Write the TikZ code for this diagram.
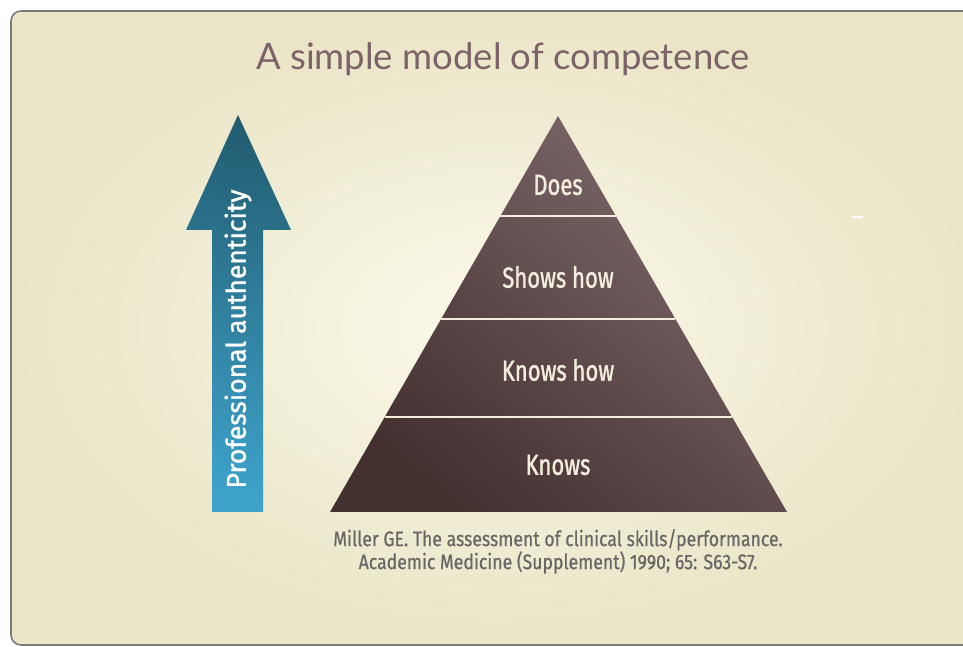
\documentclass[tikz,border=0pt]{standalone}
\usepackage{fontspec}
\setmainfont{Lato}
\newfontfamily\narrowfont[FakeStretch=0.76,FakeBold=1.2]{Fira Sans}
\newfontfamily\shaftfont[FakeStretch=0.98,FakeBold=1.2]{Fira Sans}
\newfontfamily\citefont[FakeStretch=0.84,FakeBold=0.6]{Fira Sans}
\usepackage{xcolor}
\usepackage{tikz}
\usetikzlibrary{shapes,positioning,calc}

\definecolor{bglight}{HTML}{FBF9EA}
\definecolor{bgdark}{HTML}{EAE5C6}
\definecolor{framegray}{HTML}{7A7A7A}
\definecolor{titlemauve}{HTML}{7B6369}
\definecolor{pyrtop}{HTML}{7E696D}
\definecolor{pyrbot}{HTML}{44302F}
\definecolor{arrowtop}{HTML}{235E72}
\definecolor{arrowbot}{HTML}{3EA2CB}
\definecolor{linecream}{HTML}{F3EEDC}
\definecolor{citegray}{HTML}{676767}

\begin{document}
\begin{tikzpicture}[
    x=1pt, y=1pt,
    frame/.style={draw=framegray, line width=1.6pt, rounded corners=10pt, inner color=bglight, outer color=bgdark},
    heading/.style={text=titlemauve, font=\fontsize{36.5}{40}\selectfont, inner sep=0pt, anchor=base},
    level/.style={text=linecream, font=\narrowfont\fontsize{29}{32}\selectfont, inner sep=0pt},
    divider/.style={draw=linecream, line width=2pt},
    upshaft/.style={top color=arrowtop, bottom color=arrowbot, shading angle=-8},
    shaftlabel/.style={text=white, font=\shaftfont\fontsize{27}{30}\selectfont, inner sep=0pt, rotate=90},
    cite/.style={text=citegray, font=\citefont\fontsize{21}{23}\selectfont, inner sep=0pt, align=center}
]
    \useasboundingbox (0,0) rectangle (963,647);

    % Background panel
    \begin{scope}
        \clip (0,0) rectangle (963,647);
        \shadedraw[frame] (11,2) rectangle (985,636);
    \end{scope}
    \draw[white, line width=1.5pt] (852,430) -- (863,430);

    % Title
    \node[heading] (title) at (503,577) {A simple model of competence};

    % Arrow
    \coordinate (tip) at (238,532);
    \shade[upshaft] (tip) -- (291,417) -- (263,417) -- (263,135)
        -- (212,135) -- (212,417) -- (186,417) -- cycle;
    \node[shaftlabel] (authentic) at (238,308) {Professional authenticity};

    % Pyramid
    \coordinate (apex) at (558,531);
    \coordinate (left) at (330,135);
    \coordinate (right) at (787,135);
    \shade[top color=pyrtop, bottom color=pyrbot, shading angle=-40] (apex) -- (left) -- (right) -- cycle;
    \foreach \t in {0.2525,0.5126,0.760}
        \draw[divider] ($(apex)!\t!(left)$) -- ($(apex)!\t!(right)$);

    % Levels
    \node[level] (does) at (558,462) {Does};
    \node[level] (shows) at (558,370) {Shows how};
    \node[level] (knowshow) at (558,277) {Knows how};
    \node[level] (knows) at (558,182) {Knows};

    % Reference
    \coordinate (base) at (558,135);
    \node[cite, below=17pt of base] (miller) {Miller GE. The assessment of clinical skills/performance.\\Academic Medicine (Supplement) 1990; 65: S63-S7.};

\end{tikzpicture}
\end{document}
